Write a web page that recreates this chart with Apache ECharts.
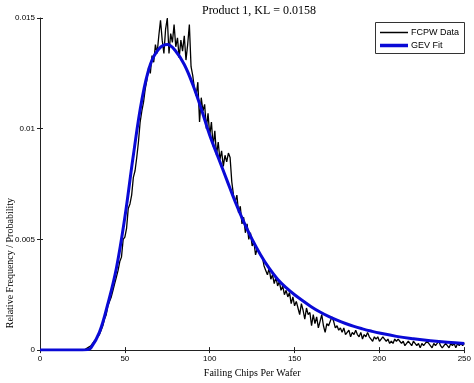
<!DOCTYPE html>
<html>
<head>
<meta charset="utf-8">
<script src="https://cdn.jsdelivr.net/npm/echarts@6/dist/echarts.min.js"></script>
<style>
html,body{margin:0;padding:0;background:#fff;}
#chart{width:474px;height:383px;}
</style>
</head>
<body>
<div id="chart"></div>
<script>
const titleText = 'Product 1, KL = 0.0158';
const xAxisName = 'Failing Chips Per Wafer';
const yAxisName = 'Relative Frequency / Probability';
const seriesNames = ['FCPW Data', 'GEV Fit'];

// FCPW data: one value per failing-chip count, starting at 0
const fcpwStartX = 0;
const fcpwValues = [
  0,0,0,0,0,0,0,0,0,0,
  0,0,0,0,0,0,0,0,0,0,
  0,0,0,0,0,0,0,0.00005,0.0001,0.00008,
  0.0002,0.00025,0.0004,0.0005,0.0006,0.0007,0.0009,0.0011,0.0014,0.0016,
  0.0020,0.0022,0.0024,0.0027,0.0030,0.0033,0.0036,0.0040,0.0042,0.0050,
  0.0051,0.0055,0.0064,0.0066,0.0070,0.0078,0.0081,0.0087,0.0094,0.0103,
  0.0108,0.0112,0.0118,0.0122,0.0128,0.0125,0.0133,0.0130,0.0138,0.0134,
  0.0142,0.0149,0.0140,0.0134,0.0145,0.0150,0.0134,0.0143,0.0139,0.0147,
  0.0137,0.0141,0.0132,0.0140,0.0135,0.0142,0.0131,0.0138,0.0147,0.0128,
  0.0124,0.0118,0.0115,0.0121,0.0103,0.0114,0.0108,0.0111,0.0100,0.0107,
  0.0097,0.0103,0.0092,0.0099,0.0088,0.0094,0.0086,0.0090,0.0083,0.0088,
  0.0085,0.0089,0.0087,0.0076,0.0070,0.0067,0.0070,0.0062,0.0065,0.0057,
  0.0060,0.0053,0.0057,0.0050,0.0053,0.0047,0.0049,0.0043,0.0046,0.0044,
  0.0043,0.0042,0.0038,0.0036,0.0034,0.0037,0.0032,0.0034,0.0030,0.0033,
  0.0029,0.0031,0.0027,0.0029,0.0025,0.0027,0.0024,0.0026,0.0021,0.0024,
  0.0020,0.0022,0.0019,0.0016,0.0021,0.0018,0.0014,0.0019,0.0016,0.0017,
  0.0011,0.0016,0.0012,0.0015,0.0010,0.0013,0.0016,0.0011,0.0008,0.0012,
  0.0011,0.0013,0.0015,0.0013,0.0010,0.0011,0.0009,0.0010,0.0008,0.0010,
  0.0007,0.0008,0.0009,0.0006,0.0008,0.0007,0.0009,0.0007,0.0006,0.0008,
  0.0005,0.0007,0.0006,0.0008,0.0006,0.0005,0.0004,0.0006,0.0005,0.0006,
  0.0004,0.0005,0.0006,0.0005,0.0004,0.0005,0.0003,0.0004,0.0003,0.0005,
  0.0004,0.0005,0.0004,0.0003,0.0004,0.0002,0.0003,0.0004,0.0003,0.0002,
  0.0004,0.0003,0.0002,0.0003,0.0001,0.0003,0.0002,0.0003,0.0004,0.0003,
  0.0002,0.0001,0.0003,0.0002,0.0003,0.0004,0.0002,0.0001,0.0002,0.0003,
  0.0002,0.0001,0.0003,0.0002,0.0003,0.0001,0.0003,0.0002,0.0003,0.0002,
  0.0003
];

// GEV fit curve sampled points
const gevX = [0,10,20,25,28,30,35,40,45,50,55,60,65,70,75,80,85,90,95,100,105,110,115,120,125,130,135,140,145,150,155,160,165,170,175,180,185,190,195,200,210,220,230,240,250];
const gevY = [0,0,0,0,0.00002,0.0001,0.0008,0.0021,0.0037,0.0060,0.0088,0.0113,0.0129,0.0136,0.0138,0.0135,0.0129,0.0120,0.0109,0.0097,0.0087,0.0077,0.0067,0.0058,0.0050,0.0043,0.0037,0.0032,0.00282,0.0025,0.00222,0.00195,0.00172,0.00152,0.00135,0.0012,0.00107,0.00096,0.00086,0.00077,0.00062,0.00051,0.00042,0.00035,0.0003];

const xMin = 0, xMax = 250, xStep = 50;
const yMin = 0, yMax = 0.015, yStep = 0.005;

const fcpwPairs = fcpwValues.map((v, i) => [fcpwStartX + i, v]);
const gevPairs = gevX.map((x, i) => [x, gevY[i]]);

const serif = '"Liberation Serif", "DejaVu Serif", serif';
const sans = '"Liberation Sans", Arial, sans-serif';
const blue = '#0a0ad6';

const chart = echarts.init(document.getElementById('chart'), null, {renderer: 'canvas'});
const tickCommon = {show: true, inside: true, length: 3, lineStyle: {color: '#222', width: 1}};
const legendText = {fontFamily: sans, fontSize: 9, color: '#000', padding: [0, 0, 0, -2]};
chart.setOption({
  animation: false,
  backgroundColor: '#fff',
  title: {
    text: titleText, left: 254, top: 0, textAlign: 'center',
    textStyle: {fontFamily: serif, fontSize: 12, fontWeight: 'normal', color: '#000'}
  },
  grid: {left: 40, right: 6, top: 18, bottom: 28, containLabel: false},
  legend: [{
    left: 380, top: 28, data: [{name: seriesNames[0], icon: 'rect'}],
    itemWidth: 28, itemHeight: 1.5, padding: 0, textStyle: legendText
  }, {
    left: 380, top: 41, data: [{name: seriesNames[1], icon: 'rect'}],
    itemWidth: 28, itemHeight: 3.5, padding: 0, textStyle: legendText
  }],
  xAxis: [{
    type: 'value', min: xMin, max: xMax, interval: xStep,
    name: xAxisName, nameLocation: 'middle', nameGap: 15,
    nameTextStyle: {fontFamily: serif, fontSize: 10, color: '#000'},
    axisLine: {show: true, onZero: false, lineStyle: {color: '#222', width: 1}},
    axisTick: tickCommon,
    axisLabel: {fontFamily: sans, fontSize: 8, color: '#000', margin: 5},
    splitLine: {show: false}
  }, {
    type: 'value', min: xMin, max: xMax, interval: xStep, position: 'top',
    axisLine: {show: false}, axisTick: tickCommon, axisLabel: {show: false}, splitLine: {show: false}
  }],
  yAxis: [{
    type: 'value', min: yMin, max: yMax, interval: yStep,
    axisLine: {show: true, onZero: false, lineStyle: {color: '#222', width: 1}},
    axisTick: tickCommon,
    axisLabel: {fontFamily: sans, fontSize: 8, color: '#000', margin: 5},
    splitLine: {show: false}
  }, {
    type: 'value', min: yMin, max: yMax, interval: yStep, position: 'right',
    axisLine: {show: false}, axisTick: tickCommon, axisLabel: {show: false}, splitLine: {show: false}
  }],
  graphic: [{
    type: 'text', left: 5, top: 198, rotation: Math.PI / 2,
    style: {text: yAxisName, font: '10px ' + serif, fill: '#000'}
  }, {
    type: 'rect', left: 375, top: 22, z: 0,
    shape: {width: 89, height: 31},
    style: {fill: '#fff', stroke: '#333', lineWidth: 1}
  }],
  series: [{
    name: seriesNames[0], type: 'line', data: fcpwPairs, showSymbol: false, symbol: 'none',
    lineStyle: {color: '#000', width: 1.3}, itemStyle: {color: '#000'}, z: 2
  }, {
    name: seriesNames[1], type: 'line', data: gevPairs, smooth: 0.4, showSymbol: false, symbol: 'none',
    lineStyle: {color: blue, width: 3}, itemStyle: {color: blue}, z: 3
  }]
});
</script>
</body>
</html>
